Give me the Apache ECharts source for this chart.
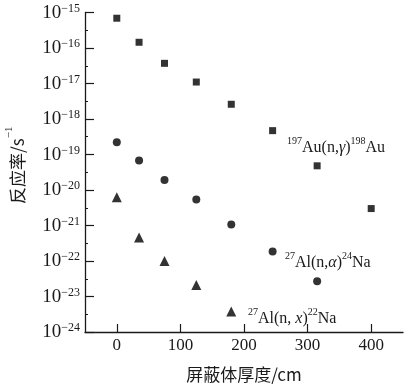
<!DOCTYPE html>
<html><head><meta charset="utf-8">
<script src="https://cdn.jsdelivr.net/npm/echarts@6/dist/echarts.min.js"></script>
<style>html,body{margin:0;padding:0;background:#fff}#c{width:404px;height:391px}</style>
</head><body><div id="c"></div>
<script>
// Data (x: shielding thickness in cm, y: reaction rate in s^-1)
const thickness = [0, 35, 75, 125, 180, 245, 315, 400];
const auRates = [6.9e-16, 1.45e-16, 3.7e-17, 1.1e-17, 2.6e-18, 4.7e-19, 4.8e-20, 3.0e-21];
const naThickness24 = [0, 35, 75, 125, 180, 245, 315];
const na24Rates = [2.2e-19, 6.8e-20, 1.9e-20, 5.4e-21, 1.07e-21, 1.86e-22, 2.7e-23];
const naThickness22 = [0, 35, 75, 125, 180];
const na22Rates = [6.2e-21, 4.6e-22, 1.0e-22, 2.1e-23, 3.8e-24];
const xTicks = [0, 100, 200, 300, 400];
const yExponents = [-24, -23, -22, -21, -20, -19, -18, -17, -16, -15];

const serif = '"Liberation Serif","DejaVu Serif",serif';
const cjk = '"Noto Sans CJK SC",sans-serif';
const ink = '#1a1a1a';

const chart = echarts.init(document.getElementById('c'));
// y axis is decades: plot log10 of each rate on a linear axis (labels show 10^n)
const pair = (xs, ys) => xs.map((x, i) => [x, Math.log10(ys[i])]);

const annRich = {
  n: {fontFamily: serif, fontSize: 16, fill: ink, lineHeight: 20, verticalAlign: 'bottom'},
  g: {fontFamily: serif, fontSize: 16, fontStyle: 'italic', fill: ink, lineHeight: 20, verticalAlign: 'bottom'},
  s: {fontFamily: serif, fontSize: 10, fill: ink, lineHeight: 20, verticalAlign: 'top'}
};

chart.setOption({
  animation: false,
  textStyle: {fontFamily: serif},
  grid: {left: 85, top: 12.5, right: 1, bottom: 59, containLabel: false, outerBoundsMode: 'none'},
  xAxis: {
    type: 'value', min: -50, max: 450,
    name: '屏蔽体厚度/cm', nameLocation: 'middle', nameGap: 34,
    nameTextStyle: {fontFamily: cjk, fontSize: 17, color: ink},
    axisLine: {onZero: false, lineStyle: {color: ink, width: 1.3}},
    axisTick: {inside: true, length: 8, customValues: xTicks, lineStyle: {color: ink, width: 1.2}},
    axisLabel: {customValues: xTicks, fontFamily: serif, fontSize: 17, color: ink, margin: 5},
    splitLine: {show: false}
  },
  yAxis: {
    type: 'value', min: yExponents[0], max: yExponents[yExponents.length - 1], interval: 1,
    name: '{c|反应率/s}{s|−1}', nameLocation: 'middle', nameGap: 59, nameRotate: 90,
    nameTextStyle: {
      color: ink, padding: [0, 0, 0, 14],
      rich: {
        c: {fontFamily: cjk, fontSize: 17, color: ink, lineHeight: 22, verticalAlign: 'bottom'},
        s: {fontFamily: serif, fontSize: 11, color: ink, lineHeight: 22, verticalAlign: 'top'}
      }
    },
    axisLine: {show: true, onZero: false, lineStyle: {color: ink, width: 1.3}},
    axisTick: {inside: true, length: 9, lineStyle: {color: ink, width: 1.2}},
    minorTick: {show: true, splitNumber: 2, length: 3, lineStyle: {color: ink, width: 1}},
    axisLabel: {
      margin: 5, color: ink,
      formatter: v => '{b|10}{s|−' + Math.abs(Math.round(v)) + '}',
      rich: {
        b: {fontFamily: serif, fontSize: 19, color: ink, lineHeight: 20, verticalAlign: 'bottom', padding: [6, 0, 0, 0]},
        s: {fontFamily: serif, fontSize: 12, color: ink, lineHeight: 20, verticalAlign: 'top'}
      }
    },
    splitLine: {show: false}
  },
  series: [
    {type: 'scatter', symbol: 'rect', symbolSize: 7, itemStyle: {color: '#000'}, data: pair(thickness, auRates)},
    {type: 'scatter', symbol: 'circle', symbolSize: 8, itemStyle: {color: '#000'}, data: pair(naThickness24, na24Rates)},
    {type: 'scatter', symbol: 'triangle', symbolSize: 10, itemStyle: {color: '#000'}, data: pair(naThickness22, na22Rates)}
  ],
  graphic: [
    {type: 'text', left: 287, top: 136, style: {text: '{s|197}{n|Au(n,}{g|γ}{n|)}{s|198}{n|Au}', rich: annRich}},
    {type: 'text', left: 285, top: 251, style: {text: '{s|27}{n|Al(n,}{g|α}{n|)}{s|24}{n|Na}', rich: annRich}},
    {type: 'text', left: 248, top: 307, style: {text: '{s|27}{n|Al(n, }{g|x}{n|)}{s|22}{n|Na}', rich: annRich}}
  ]
});
</script></body></html>
